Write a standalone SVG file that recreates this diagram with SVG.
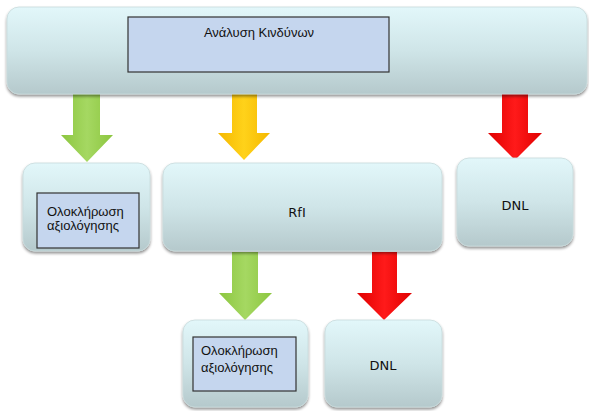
<svg xmlns="http://www.w3.org/2000/svg" width="589" height="411" viewBox="0 0 589 411">
<defs>
<linearGradient id="nodeG" x1="0" y1="0" x2="0" y2="1">
<stop offset="0" stop-color="#e2f7fa"/>
<stop offset="0.5" stop-color="#cfe5e8"/>
<stop offset="1" stop-color="#b5c9cc"/>
</linearGradient>
<linearGradient id="greenG" x1="0" y1="0" x2="1" y2="0">
<stop offset="0" stop-color="#8cc63f"/>
<stop offset="0.5" stop-color="#a5d862"/>
<stop offset="1" stop-color="#8cc63f"/>
</linearGradient>
<linearGradient id="yellowG" x1="0" y1="0" x2="1" y2="0">
<stop offset="0" stop-color="#f5b800"/>
<stop offset="0.5" stop-color="#ffd21a"/>
<stop offset="1" stop-color="#f5b800"/>
</linearGradient>
<linearGradient id="redG" x1="0" y1="0" x2="1" y2="0">
<stop offset="0" stop-color="#e00000"/>
<stop offset="0.5" stop-color="#ff1a1a"/>
<stop offset="1" stop-color="#e00000"/>
</linearGradient>
<filter id="sh" x="-10%" y="-10%" width="120%" height="130%">
<feGaussianBlur in="SourceAlpha" stdDeviation="1.5"/>
<feOffset dx="0" dy="2" result="b"/>
<feComponentTransfer><feFuncA type="linear" slope="0.45"/></feComponentTransfer>
<feMerge><feMergeNode/><feMergeNode in="SourceGraphic"/></feMerge>
</filter>
</defs>
<style>
.node{fill:url(#nodeG);stroke:#c8dadc;stroke-width:0.8;filter:url(#sh);}
.inner{fill:#c5d6ee;stroke:#333333;stroke-width:1.2;}
.t{font-family:"Liberation Sans",Arial,sans-serif;font-size:13px;fill:#111;}
.v{font-family:"DejaVu Sans",Verdana,sans-serif;font-size:13px;fill:#111;}
</style>
<g id="connectors">
<path d="M73,94 H100 V135 H113 L87,162 L61,135 H73 Z" fill="url(#greenG)"/>
<path d="M232,94 H257 V133 H270 L244,160 L218,133 H232 Z" fill="url(#yellowG)"/>
<path d="M502,94 H528 V133 H542 L515,160 L488,133 H502 Z" fill="url(#redG)"/>
<path d="M232,252 H258 V293 H272 L245,320 L219,293 H232 Z" fill="url(#greenG)"/>
<path d="M372,252 H397 V293 H412 L384,320 L357,293 H372 Z" fill="url(#redG)"/>
</g>
<g id="node-analysis">
<rect class="node" x="7" y="7" width="580" height="87" rx="12"/>
<rect class="inner" x="128" y="17" width="261" height="55"/>
<text class="t" x="259" y="37" text-anchor="middle">Ανάλυση Κινδύνων</text>
</g>
<g id="node-complete1">
<rect class="node" x="23" y="163" width="127" height="88" rx="12"/>
<rect class="inner" x="37" y="193" width="102" height="55"/>
<text class="t" x="47" y="216">Ολοκλήρωση</text>
<text class="t" x="47" y="230">αξιολόγησης</text>
</g>
<g id="node-rfi">
<rect class="node" x="163" y="163" width="279" height="88" rx="12"/>
<text class="v" x="297" y="217" text-anchor="middle">RfI</text>
</g>
<g id="node-dnl1">
<rect class="node" x="457" y="158" width="116" height="88" rx="12"/>
<text class="v" x="515" y="210" text-anchor="middle">DNL</text>
</g>
<g id="node-complete2">
<rect class="node" x="183" y="320" width="125" height="87" rx="12"/>
<rect class="inner" x="193" y="337" width="103" height="54"/>
<text class="t" x="201" y="355">Ολοκλήρωση</text>
<text class="t" x="201" y="372">αξιολόγησης</text>
</g>
<g id="node-dnl2">
<rect class="node" x="325" y="320" width="117" height="87" rx="12"/>
<text class="v" x="383" y="370" text-anchor="middle">DNL</text>
</g>
</svg>
